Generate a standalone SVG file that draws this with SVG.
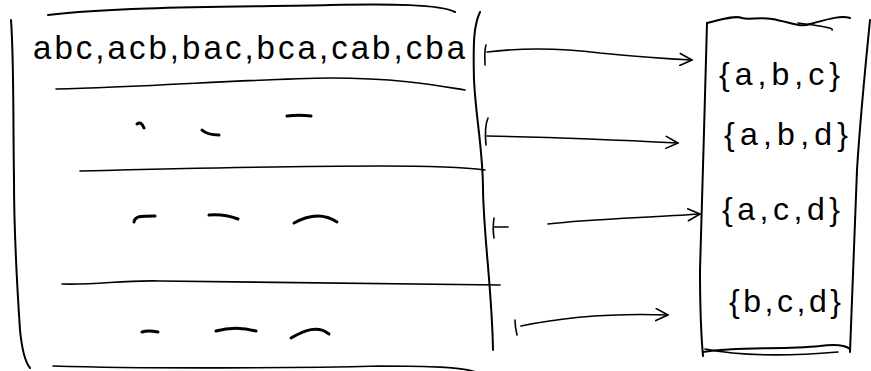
<svg xmlns="http://www.w3.org/2000/svg" width="871" height="371" viewBox="0 0 871 371">
<style>
.s{fill:none;stroke:#000;stroke-width:2;stroke-linecap:round;stroke-linejoin:round}
.t{fill:none;stroke:#000;stroke-width:1.6;stroke-linecap:round;stroke-linejoin:round}
.d{fill:none;stroke:#000;stroke-width:3;stroke-linecap:round}
.tx{font-family:"Liberation Sans",Arial,sans-serif;font-size:33px;fill:#000}
.st{font-family:"Liberation Sans",Arial,sans-serif;font-size:32px;fill:#000}
</style>
<defs>
<marker id="ah" viewBox="0 0 14 14" refX="13" refY="7" markerWidth="14" markerHeight="14" markerUnits="userSpaceOnUse" orient="auto">
<path d="M1,1 L13,7 L1,13" fill="none" stroke="#000" stroke-width="1.6" stroke-linecap="round" stroke-linejoin="round"/>
</marker>
</defs>
<rect width="871" height="371" fill="#fff"/>
<g id="permutations">
<path class="s" d="M11,20 C14,60 13,120 14,180 C14,240 18,300 20,330 C22,350 25,362 30,368"/>
<path class="s" d="M48,15 C120,6 250,7 330,5 C390,4 440,4 455,12"/>
<path class="s" d="M480,12 C474,25 473,40 474,80 C476,120 483,150 483,190 C484,240 492,290 493,350"/>
<path class="t" d="M56,89 C150,87 250,79 330,78 C400,78 440,86 465,90"/>
<path class="t" d="M80,171 C200,168 300,166 380,166 C430,166 470,168 485,170"/>
<path class="t" d="M62,284 C100,285 120,280 160,281 C280,282 400,283 500,285"/>
<path class="t" d="M53,366 C150,369 300,368 380,366 C430,366 460,367 476,372"/>
<text class="tx" x="33" y="59" textLength="432" lengthAdjust="spacing">abc,acb,bac,bca,cab,cba</text>
<path class="d" d="M137,124 C140,122 142,123 144,128"/>
<path class="d" d="M202,130 C206,134 212,135 219,135"/>
<path class="d" d="M287,116 C295,115 303,115 311,116"/>
<path class="d" d="M134,222 C135,216 140,216 155,216"/>
<path class="d" d="M209,215 C220,214 230,216 238,219"/>
<path class="d" d="M294,223 C310,214 325,214 337,222"/>
<path class="d" d="M142,332 C148,330 153,331 158,332"/>
<path class="d" d="M216,331 C230,327 245,328 256,331"/>
<path class="d" d="M291,338 C305,330 318,325 329,334"/>
</g>
<g id="sets">
<path class="s" d="M707,23 C705,100 702,200 700,270 C700,320 702,345 703,356"/>
<path class="s" d="M707,23 C720,20 735,15 742,18 C748,20 760,17 772,19 C790,22 800,28 810,24 C825,20 840,15 850,18"/>
<path class="t" d="M798,23 C815,25 835,28 832,30"/>
<path class="s" d="M870,20 C866,60 860,120 857,170 C854,240 852,300 850,352"/>
<path class="s" d="M703,352 C740,346 780,350 820,346 C835,344 845,345 850,349"/>
<path class="t" d="M705,349 C740,356 790,356 838,352"/>
<text class="st" x="719" y="85" textLength="121" lengthAdjust="spacing">{a,b,c}</text>
<text class="st" x="724" y="145" textLength="124" lengthAdjust="spacing">{a,b,d}</text>
<text class="st" x="722" y="220" textLength="118" lengthAdjust="spacing">{a,c,d}</text>
<text class="st" x="729" y="312" textLength="112" lengthAdjust="spacing">{b,c,d}</text>
</g>
<g id="connectors">
<path class="t" d="M486,45 C484,52 485,58 485,65"/>
<path class="t" d="M487,52 C520,48 560,48 600,53 C640,57 670,59 692,60" marker-end="url(#ah)"/>
<path class="t" d="M488,118 C485,125 485,135 486,145"/>
<path class="t" d="M487,136 C540,137 600,139 678,143" marker-end="url(#ah)"/>
<path class="t" d="M494,218 C493,225 493,232 494,238"/>
<path class="t" d="M494,227 L508,227"/>
<path class="t" d="M548,224 C590,219 640,218 700,214" marker-end="url(#ah)"/>
<path class="t" d="M515,320 C515,326 516,331 517,335"/>
<path class="t" d="M521,326 C560,318 610,313 668,315" marker-end="url(#ah)"/>
</g>
</svg>
